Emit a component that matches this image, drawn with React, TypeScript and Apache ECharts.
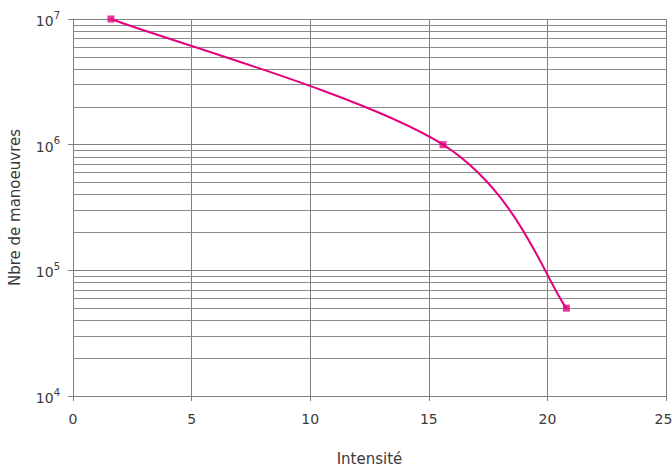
import React, { useEffect, useRef } from "react";
import * as echarts from "echarts";

const intensite = [1.6, 15.6, 20.8];
const manoeuvres = [1e7, 1e6, 5e4];
const xTicks = [0, 5, 10, 15, 20, 25];
const decades = [4, 5, 6, 7];
const minorMultipliers = [2, 3, 4, 5, 6, 7, 8, 9];

const LINE_COLOR = "#e5007e";

export default function App() {
  const ref = useRef<HTMLDivElement>(null);
  useEffect(() => {
    if (!ref.current) return;
    const chart = echarts.init(ref.current, undefined, { renderer: "svg" });
    const minorValues: number[] = [];
    decades.slice(0, -1).forEach((d) => {
      minorMultipliers.forEach((m) => minorValues.push(m * Math.pow(10, d)));
    });
    const font = "'DejaVu Sans', sans-serif";
    const textColor = "#3a3a3a";
    const points = intensite.map((x, i) => [x, manoeuvres[i]]);
    const n = points.length;
    const maxX = xTicks[xTicks.length - 1];

    chart.setOption({
      animation: false,
      grid: { left: 73, right: 6, top: 19, bottom: 73, containLabel: false, outerBoundsMode: "none" },
      xAxis: {
        type: "value",
        min: xTicks[0],
        max: maxX,
        interval: 5,
        name: "Intensité",
        nameLocation: "middle",
        nameGap: 55,
        nameMoveOverlap: false,
        nameTextStyle: { fontFamily: font, fontSize: 15, color: textColor },
        axisLine: { show: true, lineStyle: { color: "#808080", width: 1 } },
        axisTick: { show: true, length: 5, lineStyle: { color: "#808080" } },
        axisLabel: {
          margin: 16,
          formatter: (v: number) => (v === maxX ? "{last|" + v + "}" : "{n|" + v + "}"),
          rich: {
            n: { fontFamily: font, fontSize: 14, color: textColor },
            last: { fontFamily: font, fontSize: 14, color: textColor, padding: [0, 5, 0, 0] },
          },
        },
        splitLine: { show: true, lineStyle: { color: "#808080", width: 1 } },
      },
      yAxis: {
        type: "log",
        logBase: 10,
        min: Math.pow(10, decades[0]),
        max: Math.pow(10, decades[decades.length - 1]),
        name: "Nbre de manoeuvres",
        nameLocation: "middle",
        nameGap: 51,
        nameMoveOverlap: false,
        nameTextStyle: { fontFamily: font, fontSize: 15, color: textColor },
        axisLine: { show: true, lineStyle: { color: "#808080", width: 1 } },
        axisTick: { show: true, length: 5, inside: false, lineStyle: { color: "#808080" } },
        axisLabel: {
          margin: 13,
          formatter: (v: number) => {
            const e = Math.round(Math.log10(v));
            return "{b|10}{s|" + String(e) + "}";
          },
          rich: {
            b: { fontFamily: font, fontSize: 14, color: textColor, verticalAlign: "bottom", lineHeight: 18 },
            s: { fontFamily: font, fontSize: 10, color: textColor, verticalAlign: "top", lineHeight: 18, padding: [0, 0, 8, 0] },
          },
        },
        splitLine: { show: true, lineStyle: { color: "#808080", width: 1 } },
      },
      series: [
        {
          type: "custom",
          data: points,
          encode: { x: 0, y: 1 },
          z: 4,
          silent: true,
          renderItem: (params: any, api: any) => {
            const i = params.dataIndex;
            if (i >= n - 1) return { type: "group", children: [] };
            const c = (j: number) => {
              const k = Math.max(0, Math.min(n - 1, j));
              return api.coord(points[k]);
            };
            const p0 = c(i - 1);
            const p1 = c(i);
            const p2 = c(i + 1);
            const p3 = c(i + 2);
            const t = 1 / 6;
            return {
              type: "bezierCurve",
              shape: {
                x1: p1[0],
                y1: p1[1],
                cpx1: p1[0] + (p2[0] - p0[0]) * t,
                cpy1: p1[1] + (p2[1] - p0[1]) * t,
                cpx2: p2[0] - (p3[0] - p1[0]) * t,
                cpy2: p2[1] - (p3[1] - p1[1]) * t,
                x2: p2[0],
                y2: p2[1],
              },
              style: { stroke: LINE_COLOR, lineWidth: 2, fill: null },
            };
          },
        },
        {
          type: "scatter",
          data: points,
          symbol: "rect",
          symbolSize: 7,
          itemStyle: { color: LINE_COLOR },
          z: 5,
          markLine: {
            silent: true,
            symbol: "none",
            label: { show: false },
            lineStyle: { color: "#8a8a8a", width: 1, type: "solid" },
            data: minorValues.map((v) => ({ yAxis: v })),
            z: 1,
          },
        },
      ],
    });
    return () => chart.dispose();
  }, []);
  return <div ref={ref} style={{ width: 672, height: 469, position: "absolute", left: 0, top: 0 }} />;
}
